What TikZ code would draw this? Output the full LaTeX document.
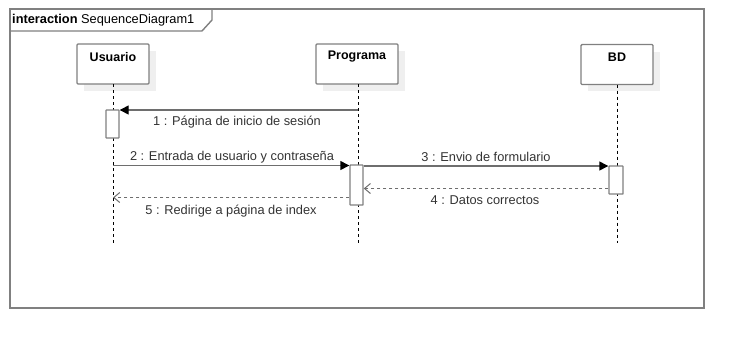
\documentclass[tikz,border=0pt]{standalone}
\usepackage{fontspec}
\setmainfont{Liberation Sans}
\usetikzlibrary{arrows.meta}
\definecolor{edge}{HTML}{808080}
\definecolor{msgline}{HTML}{6E6E6E}
\definecolor{shadowgray}{HTML}{EFEFEF}
\begin{document}
\begin{tikzpicture}[x=1pt,y=-1pt,
  every node/.style={font=\fontsize{12.8}{14}\selectfont, inner sep=0pt},
  lifebox/.style={draw=edge, line width=1.4pt, fill=white, rounded corners=1pt},
  actbar/.style={draw=edge, line width=1.4pt, fill=white, rounded corners=0.5pt},
  lifeline/.style={black, line width=0.9pt, dash pattern=on 3pt off 3pt},
  callmsg/.style={msgline, line width=1.4pt, -{Triangle[length=9pt,width=9pt,fill=black,color=black]}},
  replymsg/.style={msgline, line width=1.4pt, dash pattern=on 3pt off 3pt, -{Straight Barb[length=6pt,width=10pt,line width=1pt,color=msgline]}},
  msglabel/.style={text=black!80},
  headlabel/.style={font=\fontsize{12.5}{14}\selectfont\bfseries}
]
\useasboundingbox (0,0) rectangle (744,349);

% frame with its tab
\draw[edge, line width=1.4pt] (10,9) rectangle (704,308);
\draw[edge, line width=1.4pt] (10,31) -- (202,31) -- (212,20) -- (212,9);
\node[anchor=west] (title) at (12,20) {\textbf{interaction} SequenceDiagram1};

% lifeline heads with soft shadows
\fill[shadowgray] (84,51) rectangle (156,91);
\fill[shadowgray] (323,51) rectangle (405,91);
\fill[shadowgray] (588,52) rectangle (660,91);
\node[lifebox, minimum width=72pt, minimum height=40pt] (usr) at (113,64) {};
\node[lifebox, minimum width=82pt, minimum height=40pt] (prg) at (357,64) {};
\node[lifebox, minimum width=72pt, minimum height=40pt] (bd) at (617,64.5) {};
\node[headlabel] (usrName) at (113,57) {Usuario};
\node[headlabel] (prgName) at (357,57) {Programa};
\node[headlabel] (bdName) at (617,57) {BD};

% lifelines
\coordinate (usrEnd) at (113,243);
\coordinate (prgEnd) at (358,243);
\coordinate (bdEnd) at (617,243);
\draw[lifeline] (113,84) -- (usrEnd);
\draw[lifeline] (358,84) -- (prgEnd);
\draw[lifeline] (617,84.5) -- (bdEnd);

% activation bars
\node[actbar, minimum width=13pt, minimum height=28pt] (a1) at (112.5,124) {};
\node[actbar, minimum width=13pt, minimum height=40pt] (a2) at (356.5,185) {};
\node[actbar, minimum width=14pt, minimum height=28pt] (a3) at (616,180) {};

% messages
\coordinate (m1s) at (358,110);
\coordinate (m2s) at (113,165.5);
\coordinate (m5e) at (113,197.5);
\draw[callmsg] (m1s) -- (a1.east |- m1s);
\node[msglabel] at (237,122) {1 : Página de inicio de sesión};

\draw[callmsg] (m2s) -- (a2.west |- m2s);
\node[msglabel] at (232,157) {2 : Entrada de usuario y contraseña};

\draw[callmsg] (a2.east |- 0,166) -- (a3.west |- 0,166);
\node[msglabel] at (486,157) {3 : Envio de formulario};

\draw[replymsg] (a3.west |- 0,188.5) -- (a2.east |- 0,188.5);
\node[msglabel] at (485,200.5) {4 : Datos correctos};

\draw[replymsg] (a2.west |- 0,197.5) -- (m5e);
\node[msglabel] at (231,211) {5 : Redirige a página de index};
\end{tikzpicture}
\end{document}
